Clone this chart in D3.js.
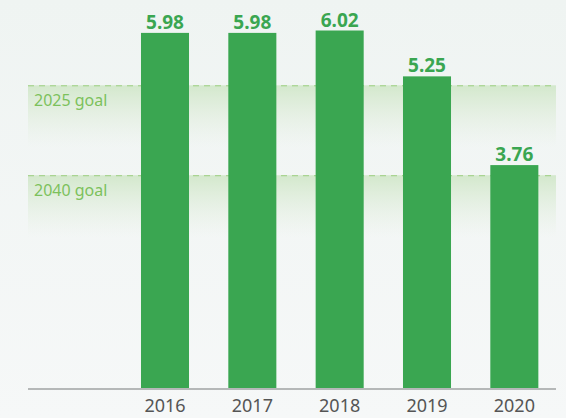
<!DOCTYPE html>
<html>
<head>
<meta charset="utf-8">
<script src="https://cdn.jsdelivr.net/npm/d3@7"></script>
<style>
  html, body { margin: 0; padding: 0; background: #f3f6f6; }
  svg { display: block; font-family: "Noto Sans", "Open Sans", sans-serif; }
</style>
</head>
<body>
<div id="chart"></div>
<script>
var years = ['', '2016', '2017', '2018', '2019', '2020'];
var values = [null, 5.98, 5.98, 6.02, 5.25, 3.76];
var goalNames = ['2025 goal', '2040 goal'];
var goalValues = [5.1, 3.59];

var width = 566, height = 418;
var baseY = 389;
var barColor = '#3aa651';
var goalColor = '#7cc15c';

var svg = d3.select('#chart').append('svg')
  .attr('width', width)
  .attr('height', height);

var defs = svg.append('defs');
var bg = defs.append('linearGradient')
  .attr('id', 'bg').attr('x1', 0).attr('y1', 0).attr('x2', 0).attr('y2', 1);
bg.append('stop').attr('offset', '0%').attr('stop-color', '#eff4f2');
bg.append('stop').attr('offset', '100%').attr('stop-color', '#f6f8f8');

var band = defs.append('linearGradient')
  .attr('id', 'band').attr('x1', 0).attr('y1', 0).attr('x2', 0).attr('y2', 1);
band.append('stop').attr('offset', '0%').attr('stop-color', '#d3e8cc').attr('stop-opacity', 1);
band.append('stop').attr('offset', '100%').attr('stop-color', '#e4efe0').attr('stop-opacity', 0);

svg.append('rect')
  .attr('width', width).attr('height', height)
  .attr('fill', 'url(#bg)');

var x = d3.scaleBand()
  .domain(years)
  .range([34, 558])
  .paddingInner(0.45)
  .paddingOuter(0.225);

var y = d3.scaleLinear()
  .domain([0, 6])
  .range([baseY, baseY - 6 * 59.55]);

// goal bands
var goals = svg.selectAll('.goal')
  .data(goalNames.map(function(n, i) { return { name: n, value: goalValues[i] }; }))
  .enter()
  .append('g')
  .attr('class', 'goal');

goals.append('rect')
  .attr('x', 28)
  .attr('y', function(d) { return y(d.value); })
  .attr('width', 528)
  .attr('height', 62)
  .attr('fill', 'url(#band)');

goals.append('line')
  .attr('x1', 28)
  .attr('x2', 556)
  .attr('y1', function(d) { return y(d.value) + 0.5; })
  .attr('y2', function(d) { return y(d.value) + 0.5; })
  .attr('stroke', '#9ccf80')
  .attr('stroke-width', 1)
  .attr('stroke-dasharray', '6,5');

goals.append('text')
  .attr('x', 34)
  .attr('y', function(d) { return y(d.value) + 21; })
  .attr('fill', goalColor)
  .style('font-size', '16px')
  .text(function(d) { return d.name; });

// bars
var data = years.map(function(yr, i) { return { year: yr, value: values[i] }; })
  .filter(function(d) { return d.value != null; });

svg.selectAll('.bar')
  .data(data)
  .enter()
  .append('rect')
  .attr('class', 'bar')
  .attr('x', function(d) { return x(d.year); })
  .attr('y', function(d) { return y(d.value); })
  .attr('width', x.bandwidth())
  .attr('height', function(d) { return baseY - y(d.value); })
  .attr('fill', barColor);

svg.selectAll('.val')
  .data(data)
  .enter()
  .append('text')
  .attr('class', 'val')
  .attr('x', function(d) { return x(d.year) + x.bandwidth() / 2; })
  .attr('y', function(d) { return y(d.value) - 4; })
  .attr('text-anchor', 'middle')
  .attr('fill', barColor)
  .style('font-size', '19px')
  .style('font-weight', 'bold')
  .text(function(d) { return d3.format('.2f')(d.value); });

// x axis
var axis = svg.append('g')
  .attr('transform', 'translate(0,' + baseY + ')')
  .call(d3.axisBottom(x).tickSize(0).tickPadding(10));
axis.select('.domain').remove();
axis.append('line')
  .attr('x1', 28).attr('x2', 556)
  .attr('stroke', '#b5b8b8').attr('stroke-width', 2);
axis.selectAll('.tick text')
  .attr('fill', '#555')
  .style('font-size', '18px')
  .style('font-family', '"Noto Sans", "Open Sans", sans-serif');
</script>
</body>
</html>
